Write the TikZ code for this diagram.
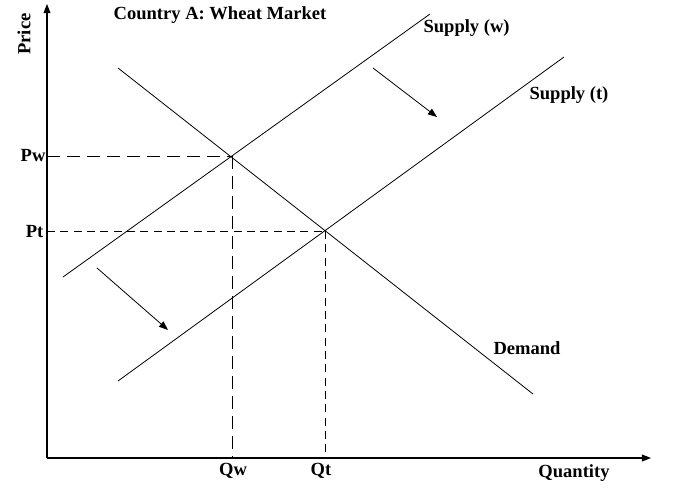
\documentclass[tikz,border=0pt]{standalone}
\usepackage{fontspec}
\setmainfont{Liberation Serif}
\usetikzlibrary{arrows.meta,positioning}

\begin{document}
\begin{tikzpicture}[x=0.75pt,y=-0.75pt,
  curve/.style={line width=0.6pt},
  axis/.style={-{Triangle[length=2.4mm,width=1.8mm]},line width=0.9pt},
  guidew/.style={line width=0.6pt,dash pattern=on 10pt off 5pt},
  guidet/.style={line width=0.6pt,dash pattern=on 6pt off 4pt},
  shiftarrow/.style={-{Triangle[length=2.4mm,width=1.8mm]},line width=0.6pt},
  lbl/.style={font=\fontsize{13.9}{16}\selectfont\bfseries,inner sep=1pt}
]
  \useasboundingbox (0,0) rectangle (686,500);
  % axes
  \coordinate (origin) at (47,458);
  \coordinate (ytop) at (47,4);
  \coordinate (xend) at (651,458);
  \draw[axis] (origin) -- (ytop);
  \draw[axis] (origin) -- (xend);
  % curves
  \coordinate (sw1) at (63,277);
  \coordinate (sw2) at (430,14);
  \coordinate (st1) at (118,381);
  \coordinate (st2) at (564,57);
  \coordinate (d1) at (118,68);
  \coordinate (d2) at (533,394);
  \draw[curve] (sw1) -- (sw2);
  \draw[curve] (st1) -- (st2);
  \draw[curve] (d1) -- (d2);
  % equilibria
  \coordinate (ew) at (232,156);
  \coordinate (et) at (325,231);
  \coordinate (ewy) at (47,156);
  \coordinate (ewx) at (232,458);
  \coordinate (ety) at (47,231);
  \coordinate (etx) at (325,458);
  \draw[guidew] (ewy) -- (ew);
  \draw[guidew] (ew) -- (ewx);
  \draw[guidet] (ety) -- (et);
  \draw[guidet] (et) -- (etx);
  % shift arrows
  \coordinate (a1s) at (373,68);
  \coordinate (a1e) at (437,117);
  \coordinate (a2s) at (97,268);
  \coordinate (a2e) at (168,330);
  \draw[shiftarrow] (a1s) -- (a1e);
  \draw[shiftarrow] (a2s) -- (a2e);
  % labels
  \node[lbl] (title) at (220,15) {Country A: Wheat Market};
  \node[lbl,anchor=west] (supw) at (422,28) {Supply (w)};
  \node[lbl,anchor=west] (supt) at (528,95) {Supply (t)};
  \node[lbl,anchor=west] (dem) at (492,348) {Demand};
  \node[lbl,rotate=90] (price) at (24,34) {Price};
  \node[lbl] (quantity) at (574,473) {Quantity};
  \node[lbl,anchor=east] (pw) at (47,156) {Pw};
  \node[lbl,anchor=east] (pt) at (45,232) {Pt};
  \node[lbl] (qw) at (233,471) {Qw};
  \node[lbl] (qt) at (321,471) {Qt};
\end{tikzpicture}
\end{document}
